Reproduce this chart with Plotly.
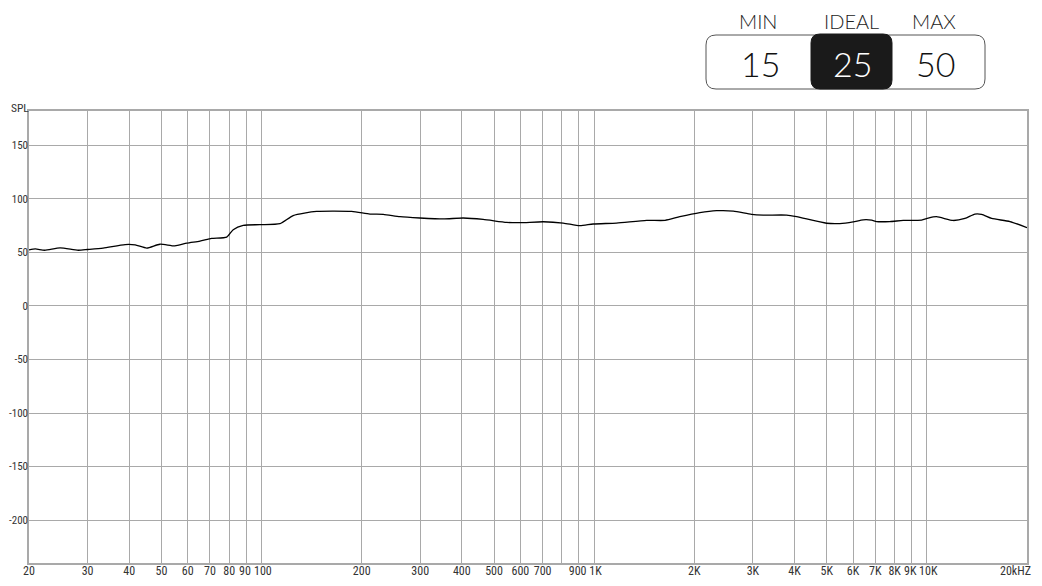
import plotly.graph_objects as go

# frequency response
freq = [20, 20.9, 22.3, 24.8, 28.1, 30, 33.4, 38.9, 41.7, 45.2, 49.5, 54.9, 59.6,
        65.3, 70.8, 78.6, 82.2, 88.1, 98.9, 113.6, 124.5, 146.4, 186.6, 211.8,
        232.3, 260.8, 299.4, 351.9, 403.7, 463.6, 545.5, 598.4, 703, 807, 905.8,
        993, 1167, 1438, 1633, 1809, 2078, 2333, 2619, 2973, 3222, 3790, 4061,
        4996, 5477, 6005, 6437, 6823, 7063, 7745, 8491, 9640, 10094, 10692,
        11997, 13015, 13944, 14608, 15657, 17779, 20000]
spl = [52.3, 53.2, 52.0, 54.2, 52.0, 52.7, 54.0, 57.3, 57.0, 54.0, 57.6, 56.0, 58.6,
       60.5, 63.0, 64.3, 71.2, 75.2, 75.9, 76.8, 84.4, 88.2, 88.2, 85.8,
       85.5, 83.3, 82.1, 81.2, 82.1, 80.8, 78.0, 77.7, 78.6, 77.4, 74.9,
       76.5, 77.4, 79.9, 79.9, 83.3, 87.1, 88.9, 88.6, 85.5, 84.8, 84.8, 83.3,
       77.2, 76.9, 78.5, 80.4, 80.1, 78.8, 78.8, 79.8, 80.1, 82.0, 83.3,
       79.8, 81.7, 85.8, 85.5, 81.7, 78.8, 73.1]

NB = "\u00a0"
x_ticks = [20, 30, 40, 50, 60, 70, 80, 90, 100, 200, 300, 400, 500, 600, 700, 800,
           900, 1000, 2000, 3000, 4000, 5000, 6000, 7000, 8000, 9000, 10000, 20000]
x_labels = ["20", "30", "40", "50", "60", "70", "80", "90" + NB, NB + "100", "200",
            "300", "400", "500", "600", "700", "", "900" + NB, NB + "1K", "2K", "3K",
            "4K", "5K", "6K", "7K", "8K", "9K" + NB, NB + "10K", ""]
last_label = "20kHZ"
y_ticks = [150, 100, 50, 0, -50, -100, -150, -200]
y_labels = ["150", "100", "50", "0", "-50", "-100", "-150", "-200"]

levels = ["MIN", "IDEAL", "MAX"]
level_vals = ["15", "25", "50"]

# figure sits inside the page body (8px margin), so work in page pixels
OFF = 8
W, H = 1042 - 2 * OFF, 586 - 2 * OFF
L, R, T, B = 29 - OFF, 1027 - OFF, 111 - OFF, 563 - OFF


def px(x):
    return (x - OFF - L) / (R - L)


def py(y):
    return (B - (y - OFF)) / (B - T)


def rounded_box(x0, y0, x1, y1, r):
    # rounded rectangle path in paper coords, from page-pixel corners
    rx = r / (R - L)
    ry = r / (B - T)
    a, b = px(x0), px(x1)
    top, bot = py(y0), py(y1)
    return (f"M {a+rx},{top} L {b-rx},{top} Q {b},{top} {b},{top-ry} "
            f"L {b},{bot+ry} Q {b},{bot} {b-rx},{bot} L {a+rx},{bot} "
            f"Q {a},{bot} {a},{bot+ry} L {a},{top-ry} Q {a},{top} {a+rx},{top} Z")


fig = go.Figure()
fig.add_trace(go.Scatter(
    x=freq, y=spl, mode='lines',
    line=dict(color='black', width=1.3, shape='spline', smoothing=0.6),
    showlegend=False, hoverinfo='skip'
))

grid = '#a9a9a9'
narrow = 'Liberation Sans Narrow, Roboto Condensed, Roboto'
x_font = dict(family=narrow, size=12, color='#333333')
y_font = dict(family=narrow, size=11, color='#333333')
fig.update_xaxes(
    type='log', range=[1.30103, 4.30103],
    tickvals=x_ticks, ticktext=x_labels, tickangle=0, automargin=False,
    showgrid=True, gridcolor=grid, gridwidth=1.2,
    showline=True, linecolor=grid, linewidth=1.5, mirror=True,
    zeroline=False, ticks='', ticklabelstandoff=-4, tickfont=x_font
)
fig.update_yaxes(
    range=[-240, 182], tickvals=y_ticks, ticktext=y_labels, automargin=False,
    showgrid=True, gridcolor=grid, gridwidth=1.2,
    showline=True, linecolor=grid, linewidth=1.5, mirror=True,
    zeroline=False, ticks='', ticklabelstandoff=-3, tickfont=y_font
)

fig.add_annotation(x=px(1033), y=py(571), xref='paper', yref='paper',
                   text=last_label, showarrow=False,
                   xanchor='right', yanchor='middle', font=x_font)

# MIN / IDEAL / MAX box
fig.add_shape(type='path', xref='paper', yref='paper',
              path=rounded_box(706, 35, 985, 89, 10),
              line=dict(color='#555555', width=1), fillcolor='white')
fig.add_shape(type='path', xref='paper', yref='paper',
              path=rounded_box(811, 34, 892, 89, 9),
              line=dict(color='#1a1a1a', width=1), fillcolor='#1a1a1a')

label_x = [758, 851, 934]
value_x = [760, 852, 935]
for i, name in enumerate(levels):
    fig.add_annotation(x=px(label_x[i]), y=py(21), xref='paper', yref='paper',
                       text=name, showarrow=False,
                       xanchor='center', yanchor='middle',
                       font=dict(family='Lato', size=20, color='#222222', weight=300))
    fig.add_annotation(x=px(value_x[i]), y=py(64), xref='paper', yref='paper',
                       text=level_vals[i], showarrow=False,
                       xanchor='center', yanchor='middle',
                       font=dict(family='Lato', size=34, weight=300,
                                 color='white' if i == 1 else '#111111'))

fig.add_annotation(x=px(8.5), y=py(108), xref='paper', yref='paper', text='SPL',
                   showarrow=False, xanchor='left', yanchor='middle',
                   font=dict(family=narrow, size=11.5, color='#333333'))

fig.update_layout(
    width=W, height=H,
    margin=dict(l=L, r=W - R, t=T, b=H - B),
    paper_bgcolor='white', plot_bgcolor='white'
)

fig.write_html("out.html")
